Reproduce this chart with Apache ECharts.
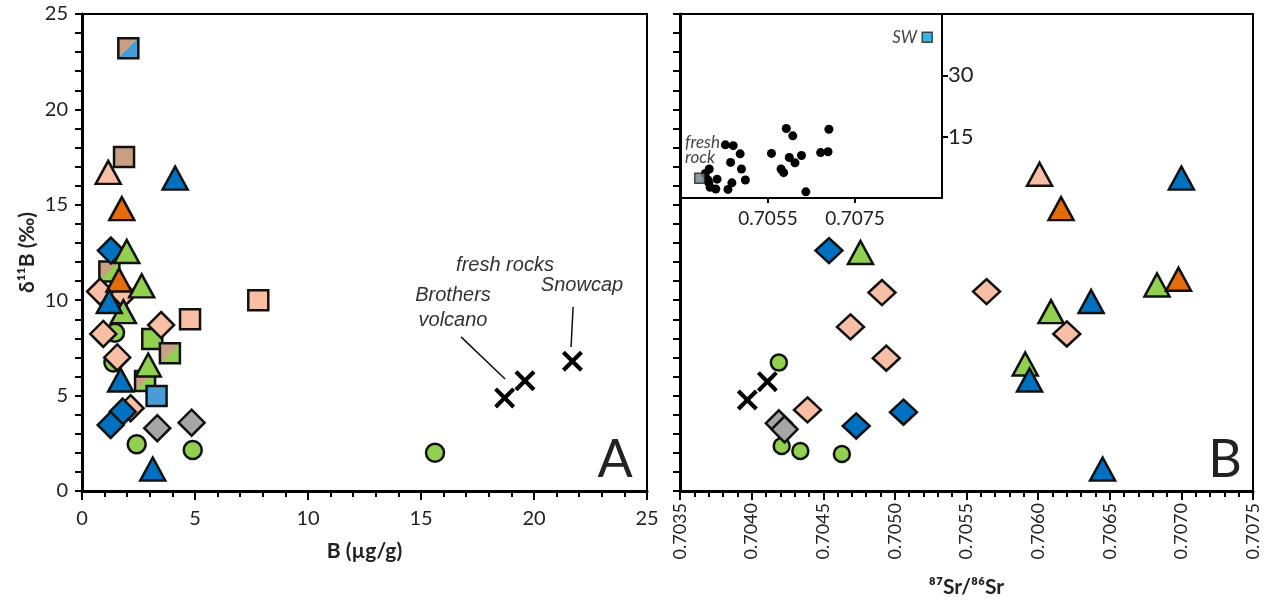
<!DOCTYPE html>
<html>
<head>
<meta charset="UTF-8">
<title>d11B vs B and Sr isotopes</title>
<script src="https://cdn.jsdelivr.net/npm/echarts@6/dist/echarts.min.js"></script>
<style>
  html, body { margin:0; padding:0; background:#fff; }
  #container { width:1272px; height:606px; }
</style>
</head>
<body>
<div id="container"></div>
<script type="text/javascript">

// ---- panel A : d11B vs B (ug/g)
var aBlueTri    = [[4.12,16.4],[1.21,9.93],[1.71,5.82],[3.13,1.15]];
var aGreenTri   = [[1.98,12.55],[2.64,10.75],[1.83,9.4],[2.93,6.6]];
var aOrangeTri  = [[1.76,14.8],[1.64,11.06]];
var aPinkTri    = [[1.16,16.7]];
var aBlueDia    = [[1.28,12.6],[1.8,4.16],[1.27,3.46]];
var aPinkDia    = [[0.8,10.45],[1.83,10.3],[3.5,8.7],[0.94,8.23],[1.56,7.0],[2.15,4.34]];
var aGreyDia    = [[3.33,3.29],[4.85,3.58]];
var aPinkSq     = [[4.78,9.0],[7.8,10.0]];
var aGreenSq    = [[3.11,7.97]];
var aBlueSq     = [[3.3,4.98]];
var aTanSq      = [[1.86,17.5]];
var aTanBlueSq  = [[2.05,23.2]];
var aTanGreenSq = [[1.21,11.5],[3.89,7.22],[2.79,5.77]];
var aGreenCirc  = [[1.46,8.3],[1.39,6.73],[2.42,2.45],[4.9,2.15],[15.62,2.0]];
var aFreshX     = [[18.7,4.88],[19.6,5.78],[21.7,6.8]];

// ---- panel B : d11B vs 87Sr/86Sr
var bBlueTri   = [[0.70700,16.4],[0.70637,9.93],[0.70594,5.82],[0.70645,1.15]];
var bGreenTri  = [[0.70476,12.5],[0.70683,10.8],[0.70609,9.4],[0.70591,6.66]];
var bOrangeTri = [[0.70616,14.8],[0.70698,11.1]];
var bPinkTri   = [[0.70601,16.6]];
var bBlueDia   = [[0.70454,12.6],[0.70473,3.41],[0.70506,4.13]];
var bPinkDia   = [[0.70564,10.45],[0.70491,10.4],[0.70469,8.6],[0.70620,8.23],[0.70494,6.96],[0.70439,4.25]];
var bGreyDia   = [[0.70419,3.55],[0.70423,3.23]];
var bGreenCirc = [[0.70419,6.73],[0.70421,2.36],[0.70434,2.1],[0.70463,1.94]];
var bFreshX    = [[0.70397,4.77],[0.70411,5.73]];

// ---- inset : all samples + end members
var insetDots = [[0.70592,17.0],[0.70607,15.2],[0.70690,16.8],[0.70452,13.0],[0.70470,12.8],
  [0.70486,10.8],[0.70558,10.9],[0.70599,9.9],[0.70627,10.4],[0.70612,8.6],[0.70671,11.1],
  [0.70688,11.3],[0.70464,8.7],[0.70489,7.1],[0.70580,7.1],[0.70586,6.2],[0.70498,4.4],
  [0.70467,3.7],[0.70458,2.1],[0.70637,1.5],[0.70415,7.1],[0.70406,6.0],[0.70433,4.6],
  [0.70414,3.7],[0.70417,2.6],[0.70430,2.2],[0.70412,4.4]];
var insetFreshRock = [[0.70393,4.8]];
var insetSW = [[0.70916,39.3]];

// leader lines for the fresh rock labels (data coords)
var snowcapLine  = [[21.73,9.65],[21.64,7.55]];
var brothersLine = [[16.77,8.08],[18.72,5.87]];

var BLUE = '#0070C0', GREEN = '#92D050', ORANGE = '#E46C0A', PINK = '#F8BFA4',
    GREY = '#A6A6A6', TAN = '#C9A084', LBLUE = '#4A9CD6', EDGE = '#111';
var FONT = 'Lato, "Open Sans", sans-serif';

function split(c1, c2) {
  return new echarts.graphic.LinearGradient(0, 0, 1, 1, [
    {offset:0, color:c1}, {offset:0.5, color:c1}, {offset:0.5, color:c2}, {offset:1, color:c2}
  ]);
}

function sc(data, symbol, size, color, idx, z) {
  return {
    type:'scatter', data:data, symbol:symbol, symbolSize:size,
    xAxisIndex:idx, yAxisIndex:idx, z:z || 2,
    itemStyle:{ color:color, borderColor:EDGE, borderWidth:2.5, opacity:1 },
    emphasis:{ disabled:true }, silent:true
  };
}

// filled cross so the stroke keeps its weight
var XPATH = 'path://M0,1.4 L1.4,0 L5,3.6 L8.6,0 L10,1.4 L6.4,5 L10,8.6 L8.6,10 L5,6.4 L1.4,10 L0,8.6 L3.6,5 Z';
function xs(data, size, idx) {
  return {
    type:'scatter', data:data, symbol:XPATH, symbolSize:size,
    xAxisIndex:idx, yAxisIndex:idx, z:1,
    itemStyle:{ color:'#000', borderWidth:0, opacity:1 },
    emphasis:{ disabled:true }, silent:true
  };
}

var TRI = [25,23], DIA = [26,26], SQ = 20, CIR = 18;

var series = [
  // panel A
  sc(aGreenCirc, 'circle', CIR, GREEN, 0, 2),
  sc(aPinkSq, 'rect', SQ, PINK, 0, 3),
  sc(aGreenSq, 'rect', SQ, GREEN, 0, 3),
  sc(aTanSq, 'rect', SQ, TAN, 0, 3),
  sc(aTanBlueSq, 'rect', SQ, split(TAN, LBLUE), 0, 3),
  sc(aTanGreenSq, 'rect', SQ, split(TAN, GREEN), 0, 3),
  sc(aBlueSq, 'rect', SQ, LBLUE, 0, 3),
  sc(aGreyDia, 'diamond', DIA, GREY, 0, 4),
  sc(aPinkDia, 'diamond', DIA, PINK, 0, 4),
  sc(aBlueDia, 'diamond', DIA, BLUE, 0, 4),
  sc(aPinkTri, 'triangle', TRI, PINK, 0, 5),
  sc(aGreenTri, 'triangle', TRI, GREEN, 0, 5),
  sc(aOrangeTri, 'triangle', TRI, ORANGE, 0, 5),
  sc(aBlueTri, 'triangle', TRI, BLUE, 0, 5),
  xs(aFreshX, 21, 0),
  {
    type:'lines', coordinateSystem:'cartesian2d', xAxisIndex:0, yAxisIndex:0, silent:true,
    data:[{coords:snowcapLine}, {coords:brothersLine}],
    lineStyle:{ color:'#111', width:1.5, opacity:1 }
  },
  // panel B
  xs(bFreshX, 21, 1),
  sc(bGreenCirc, 'circle', 16, GREEN, 1, 2),
  sc(bGreyDia, 'diamond', DIA, GREY, 1, 4),
  sc(bPinkDia, 'diamond', [27,25], PINK, 1, 4),
  sc(bBlueDia, 'diamond', [27,25], BLUE, 1, 4),
  sc(bPinkTri, 'triangle', TRI, PINK, 1, 5),
  sc(bGreenTri, 'triangle', TRI, GREEN, 1, 5),
  sc(bOrangeTri, 'triangle', TRI, ORANGE, 1, 5),
  sc(bBlueTri, 'triangle', TRI, BLUE, 1, 5),
  // inset
  {
    type:'scatter', data:insetDots, symbol:'circle', symbolSize:9,
    xAxisIndex:2, yAxisIndex:2, z:20, silent:true,
    itemStyle:{ color:'#000', opacity:1 }
  },
  {
    type:'scatter', data:insetFreshRock, symbol:'rect', symbolSize:10,
    xAxisIndex:2, yAxisIndex:2, z:21, silent:true,
    itemStyle:{ color:'#6E7F88', borderColor:'#222', borderWidth:1.5 }
  },
  {
    type:'scatter', data:insetSW, symbol:'rect', symbolSize:10,
    xAxisIndex:2, yAxisIndex:2, z:21, silent:true,
    itemStyle:{ color:'#00A6E0', borderColor:'#222', borderWidth:1.5 }
  }
];

var axisLine = { show:true, onZero:false, lineStyle:{ color:'#000', width:3 } };
var lbl = { color:'#222', fontSize:20, fontFamily:FONT };
var nameStyle = { fontSize:21, fontWeight:'bold', color:'#222', fontFamily:FONT };

var option = {
  animation:false,
  textStyle:{ fontFamily:FONT },
  grid:[
    { left:82, top:14, width:565, height:477, show:true, borderColor:'#000', borderWidth:2 },
    { left:680, top:14, width:573, height:477, show:true, borderColor:'#000', borderWidth:2 },
    { left:681, top:14, width:261, height:184, show:true, backgroundColor:'#fff',
      borderColor:'#000', borderWidth:2, z:10 }
  ],
  xAxis:[
    { gridIndex:0, type:'value', min:0, max:25, interval:5,
      name:'B (\u00b5g/g)', nameLocation:'middle', nameGap:50, nameTextStyle:nameStyle,
      axisLine:axisLine,
      axisTick:{ show:true, length:9, lineStyle:{ color:'#000', width:2 } },
      minorTick:{ show:true, splitNumber:5, length:6, lineStyle:{ color:'#000', width:2 } },
      splitLine:{ show:false }, minorSplitLine:{ show:false },
      axisLabel:Object.assign({ margin:18 }, lbl) },
    { gridIndex:1, type:'value', min:0.7035, max:0.7075, interval:0.0005,
      name:'\u2078\u2077Sr/\u2078\u2076Sr', nameLocation:'middle', nameGap:86, nameTextStyle:nameStyle,
      axisLine:axisLine,
      axisTick:{ show:true, length:9, lineStyle:{ color:'#000', width:2 } },
      minorTick:{ show:true, splitNumber:5, length:6, lineStyle:{ color:'#000', width:2 } },
      splitLine:{ show:false }, minorSplitLine:{ show:false },
      axisLabel:{ margin:12, rotate:90, fontSize:18, color:'#222', fontFamily:FONT,
        formatter:function (v) { return v.toFixed(4); } } },
    { gridIndex:2, type:'value', min:0.7035, max:0.7095, interval:0.002, z:11,
      axisLine:{ show:true, onZero:false, lineStyle:{ color:'#000', width:2 } },
      axisTick:{ show:true, length:5, lineStyle:{ color:'#000', width:2 } },
      splitLine:{ show:false },
      axisLabel:{ showMinLabel:false, showMaxLabel:false, margin:11, color:'#222', fontSize:19,
        fontFamily:FONT, formatter:function (v) { return v.toFixed(4); } } }
  ],
  yAxis:[
    { gridIndex:0, type:'value', min:0, max:25, interval:5,
      name:'\u03b4\u00b9\u00b9B (\u2030)', nameLocation:'middle', nameGap:44, nameRotate:90,
      nameTextStyle:nameStyle,
      axisLine:axisLine,
      axisTick:{ show:true, length:7, lineStyle:{ color:'#000', width:2 } },
      minorTick:{ show:true, splitNumber:5, length:7, lineStyle:{ color:'#000', width:2 } },
      splitLine:{ show:false }, minorSplitLine:{ show:false },
      axisLabel:Object.assign({ margin:14 }, lbl) },
    { gridIndex:1, type:'value', min:0, max:25, interval:5,
      axisLine:axisLine,
      axisTick:{ show:true, length:7, lineStyle:{ color:'#000', width:2 } },
      minorTick:{ show:true, splitNumber:5, length:7, lineStyle:{ color:'#000', width:2 } },
      splitLine:{ show:false }, minorSplitLine:{ show:false },
      axisLabel:{ show:false } },
    { gridIndex:2, type:'value', min:0, max:45, interval:15, position:'right', z:11,
      axisLine:{ show:true, onZero:false, lineStyle:{ color:'#000', width:2 } },
      axisTick:{ show:true, length:6, lineStyle:{ color:'#000', width:2 } },
      splitLine:{ show:false },
      axisLabel:{ showMinLabel:false, showMaxLabel:false, margin:6, color:'#222', fontSize:22,
        fontFamily:FONT } }
  ],
  graphic:[
    { type:'text', z:50, style:{ text:'A', x:615, y:460, align:'center', verticalAlign:'middle',
        font:'52px ' + FONT, fill:'#222' } },
    { type:'text', z:50, style:{ text:'B', x:1225, y:460, align:'center', verticalAlign:'middle',
        font:'52px ' + FONT, fill:'#222' } },
    { type:'text', z:50, style:{ text:'fresh rocks', x:505, y:265, align:'center', verticalAlign:'middle',
        font:'italic 20px "Liberation Sans", Arial, sans-serif', fill:'#333' } },
    { type:'text', z:50, style:{ text:'Snowcap', x:582, y:285, align:'center', verticalAlign:'middle',
        font:'italic 20px "Liberation Sans", Arial, sans-serif', fill:'#333' } },
    { type:'text', z:50, style:{ text:'Brothers', x:453, y:295, align:'center', verticalAlign:'middle',
        font:'italic 20px "Liberation Sans", Arial, sans-serif', fill:'#333' } },
    { type:'text', z:50, style:{ text:'volcano', x:453, y:320, align:'center', verticalAlign:'middle',
        font:'italic 20px "Liberation Sans", Arial, sans-serif', fill:'#333' } },
    { type:'text', z:50, style:{ text:'fresh', x:685, y:143, align:'left', verticalAlign:'middle',
        font:'italic 17px ' + FONT, fill:'#444' } },
    { type:'text', z:50, style:{ text:'rock', x:685, y:158, align:'left', verticalAlign:'middle',
        font:'italic 17px ' + FONT, fill:'#444' } },
    { type:'text', z:50, style:{ text:'SW', x:917, y:38, align:'right', verticalAlign:'middle',
        font:'italic 17px ' + FONT, fill:'#444' } }
  ],
  series:series
};

var myChart = echarts.init(document.getElementById('container'));
myChart.setOption(option, true);

window.onresize = function () {
  myChart.resize();
};
</script>
</body>
</html>
